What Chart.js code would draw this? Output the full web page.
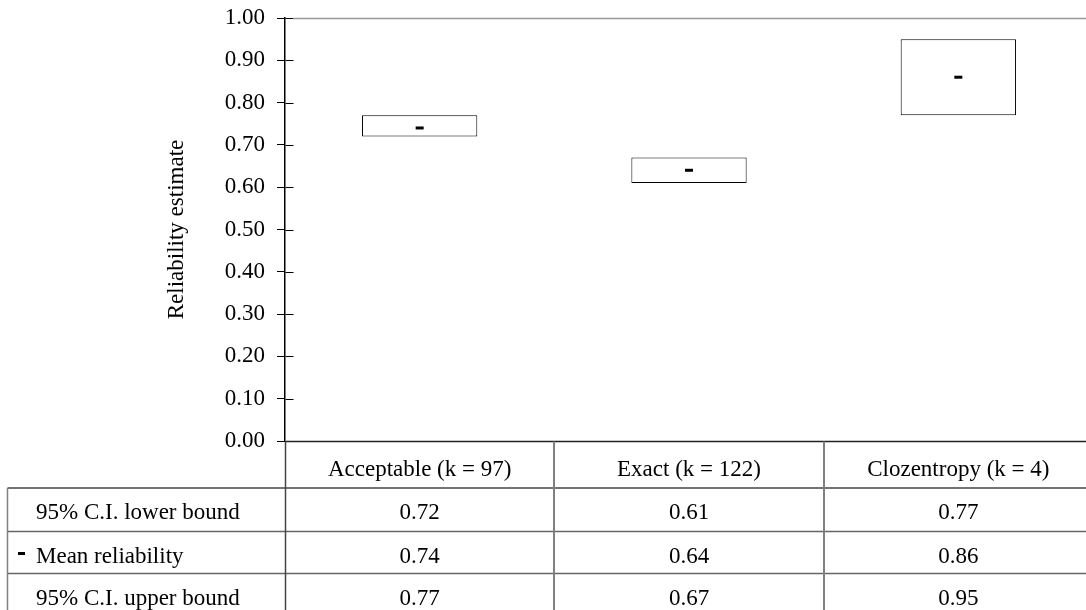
<!DOCTYPE html>
<html>
<head>
<meta charset="utf-8">
<script src="https://cdn.jsdelivr.net/npm/chart.js@4.4.1/dist/chart.umd.min.js"></script>
<style>
  html, body { margin: 0; padding: 0; background: #fff; overflow: hidden; }
  #wrap { width: 1086px; height: 610px; overflow: hidden; }
</style>
</head>
<body>
<div id="wrap"><canvas id="chart" width="1100" height="610"></canvas></div>
<script>
const categories = ['Acceptable (k = 97)', 'Exact (k = 122)', 'Clozentropy (k = 4)'];
const lowerBound = [0.72, 0.61, 0.77];
const meanReliability = [0.74, 0.64, 0.86];
const upperBound = [0.77, 0.67, 0.95];
const rowLabels = ['95% C.I. lower bound', 'Mean reliability', '95% C.I. upper bound'];

const FONT = '"Liberation Serif", "DejaVu Serif", serif';
const FONT_SIZE = 23;

// inner half of tick marks, gray top border and the data table under the plot
const tablePlugin = {
    id: 'dataTable',
    afterDraw(chart) {
        const ctx = chart.ctx;
        const area = chart.chartArea;
        const x = chart.scales.x;
        const y = chart.scales.y;
        const axisX = Math.round(area.left) + 0.5;

        ctx.save();
        ctx.strokeStyle = '#000';
        ctx.lineWidth = 1;
        y.ticks.forEach((t, i) => {
            const py = Math.round(y.getPixelForTick(i)) + 0.5;
            ctx.beginPath();
            ctx.moveTo(axisX, py);
            ctx.lineTo(axisX + 8, py);
            ctx.stroke();
        });

        ctx.strokeStyle = '#999';
        ctx.lineWidth = 1.5;
        ctx.beginPath();
        ctx.moveTo(axisX + 8, Math.round(area.top) + 0.5);
        ctx.lineTo(area.right + 20, Math.round(area.top) + 0.5);
        ctx.stroke();

        const half = (x.getPixelForValue(1) - x.getPixelForValue(0)) / 2;
        const colEdges = [];
        categories.forEach((c, i) => colEdges.push(x.getPixelForValue(i) + half));
        const tableLeft = 7.5;
        const headTop = Math.round(area.bottom) + 0.5;
        const rowTops = [488, 531.5, 573.5, 615];

        // horizontal lines
        ctx.strokeStyle = '#222';
        ctx.lineWidth = 1.5;
        ctx.beginPath();
        ctx.moveTo(axisX, headTop);
        ctx.lineTo(area.right + 20, headTop);
        ctx.stroke();
        rowTops.forEach((ry, i) => {
            ctx.strokeStyle = i === 0 ? '#444' : '#666';
            ctx.beginPath();
            ctx.moveTo(tableLeft, ry);
            ctx.lineTo(area.right + 20, ry);
            ctx.stroke();
        });
        // vertical lines
        ctx.strokeStyle = '#808080';
        ctx.lineWidth = 2;
        colEdges.forEach(cx => {
            ctx.beginPath();
            ctx.moveTo(Math.round(cx), headTop);
            ctx.lineTo(Math.round(cx), 620);
            ctx.stroke();
        });
        ctx.lineWidth = 1.5;
        ctx.beginPath();
        ctx.moveTo(tableLeft, rowTops[0]);
        ctx.lineTo(tableLeft, 620);
        ctx.stroke();
        ctx.strokeStyle = '#444';
        ctx.lineWidth = 1.5;
        ctx.beginPath();
        ctx.moveTo(axisX, headTop);
        ctx.lineTo(axisX, 620);
        ctx.stroke();

        // text
        ctx.fillStyle = '#000';
        ctx.font = FONT_SIZE + 'px ' + FONT;
        ctx.textBaseline = 'alphabetic';
        ctx.textAlign = 'center';
        categories.forEach((c, i) => ctx.fillText(c, x.getPixelForValue(i), headTop + 34));
        const rows = [lowerBound, meanReliability, upperBound];
        rows.forEach((vals, r) => {
            const base = rowTops[r] + 31;
            ctx.textAlign = 'left';
            ctx.fillText(rowLabels[r], 36, base);
            ctx.textAlign = 'center';
            vals.forEach((v, i) => ctx.fillText(v.toFixed(2), x.getPixelForValue(i), base));
        });
        // legend marker for the mean
        ctx.fillRect(18, 552, 7, 3);
        ctx.restore();
    }
};

const ctx = document.getElementById('chart').getContext('2d');
new Chart(ctx, {
    data: {
        labels: categories,
        datasets: [
            {
                type: 'bar',
                label: '95% C.I.',
                data: categories.map((c, i) => [lowerBound[i], upperBound[i]]),
                backgroundColor: '#fff',
                borderColor: '#000',
                borderWidth: 1,
                borderSkipped: false,
                barPercentage: 0.428,
                categoryPercentage: 1,
                order: 2
            },
            {
                type: 'line',
                label: 'Mean reliability',
                data: meanReliability,
                showLine: false,
                pointStyle: 'line',
                pointRadius: 4,
                pointBorderWidth: 3,
                borderColor: '#000',
                backgroundColor: '#000',
                order: 1
            }
        ]
    },
    options: {
        responsive: false,
        animation: false,
        layout: { padding: { top: 18, right: 2, bottom: 169, left: 0 } },
        plugins: {
            legend: { display: false },
            tooltip: { enabled: false }
        },
        scales: {
            x: {
                display: false,
                grid: { display: false }
            },
            y: {
                min: 0,
                max: 1,
                afterFit(scale) {
                    scale.width = 285;
                    scale.paddingTop = 0;
                    scale.paddingBottom = 0;
                },
                ticks: {
                    stepSize: 0.1,
                    color: '#000',
                    padding: 12,
                    font: { family: FONT, size: FONT_SIZE },
                    callback: v => v.toFixed(2)
                },
                grid: {
                    drawOnChartArea: false,
                    drawTicks: true,
                    tickLength: 8,
                    color: '#000'
                },
                border: { display: true, color: '#000', width: 1.5 },
                title: {
                    display: true,
                    text: 'Reliability estimate',
                    color: '#000',
                    padding: { top: 163, bottom: 0 },
                    font: { family: FONT, size: FONT_SIZE }
                }
            }
        }
    },
    plugins: [tablePlugin]
});
</script>
</body>
</html>
